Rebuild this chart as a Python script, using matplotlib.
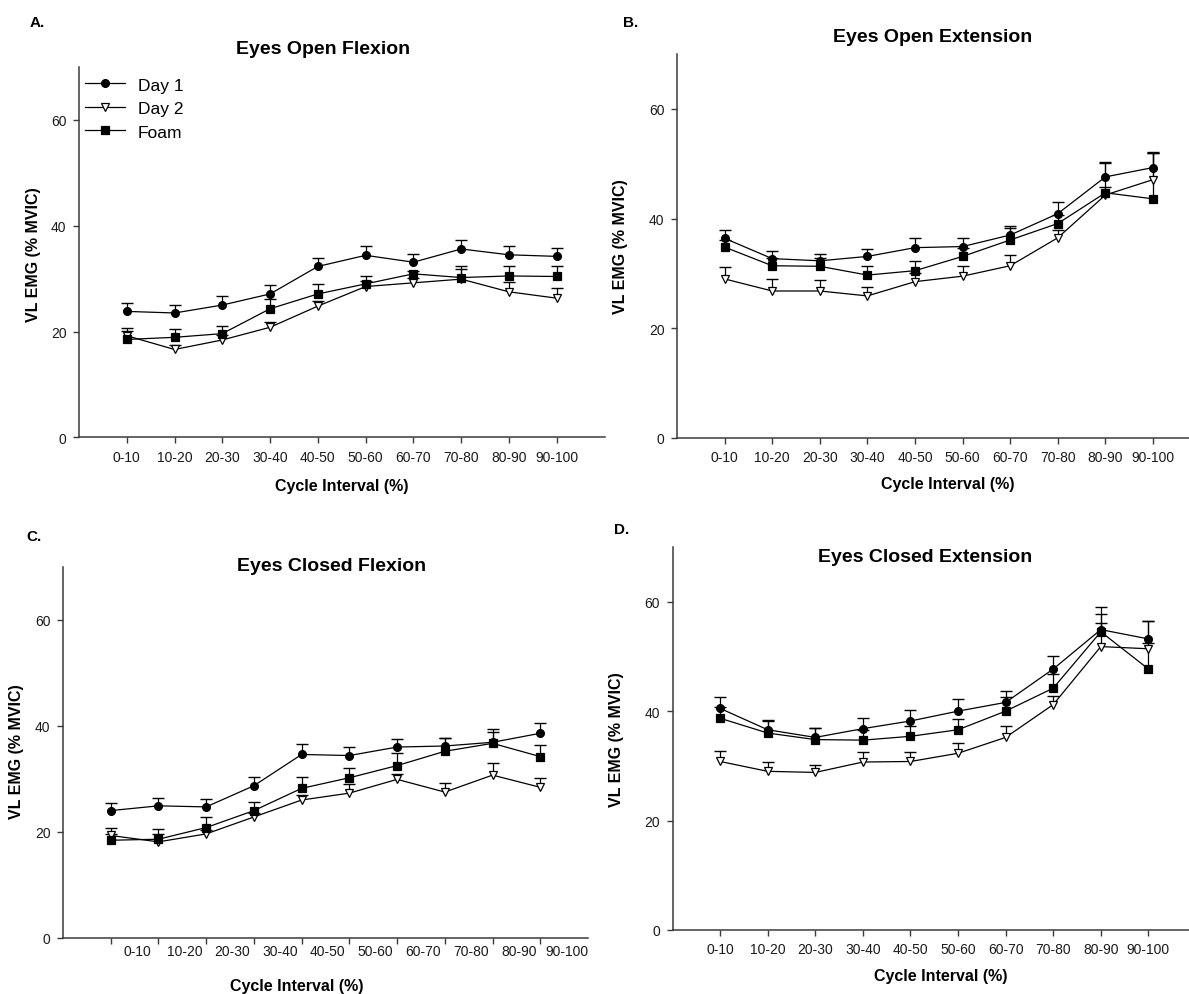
import matplotlib
matplotlib.use('Agg')
import matplotlib.pyplot as plt
import numpy as np

plt.rcParams['font.family'] = ['Liberation Sans', 'DejaVu Sans']

# ---------------- data ----------------
intervals = ['0-10', '10-20', '20-30', '30-40', '40-50',
             '50-60', '60-70', '70-80', '80-90', '90-100']
series_names = ['Day 1', 'Day 2', 'Foam']

# A. Eyes Open Flexion
day1_A = [23.8, 23.5, 25.0, 27.1, 32.3, 34.4, 33.1, 35.6, 34.5, 34.2]
day1_A_err = [1.6, 1.5, 1.7, 1.6, 1.6, 1.7, 1.5, 1.7, 1.7, 1.6]
day2_A = [19.2, 16.6, 18.4, 20.8, 24.8, 28.5, 29.2, 29.9, 27.5, 26.3]
day2_A_err = [1.5, 0.8, 0.9, 1.0, 1.0, 1.0, 1.0, 2.0, 1.9, 2.0]
foam_A = [18.5, 18.9, 19.6, 24.3, 27.1, 29.0, 30.9, 30.2, 30.5, 30.4]
foam_A_err = [1.6, 1.6, 1.5, 1.8, 1.9, 1.5, 0.6, 2.2, 1.9, 2.0]

# B. Eyes Open Extension
day1_B = [36.4, 32.7, 32.3, 33.1, 34.7, 34.9, 37.0, 40.9, 47.6, 49.3]
day1_B_err = [1.6, 1.4, 1.3, 1.4, 1.7, 1.5, 1.7, 2.1, 2.6, 2.7]
day2_B = [29.0, 26.8, 26.8, 25.9, 28.5, 29.5, 31.4, 36.5, 44.3, 47.1]
day2_B_err = [2.1, 2.2, 2.0, 1.6, 1.5, 1.9, 2.0, 1.5, 1.5, 5.0]
foam_B = [34.8, 31.4, 31.3, 29.7, 30.5, 33.1, 36.1, 39.1, 44.7, 43.6]
foam_B_err = [1.3, 1.5, 1.5, 1.6, 1.7, 1.5, 2.2, 1.5, 5.6, 8.4]

# C. Eyes Closed Flexion
day1_C = [24.0, 24.9, 24.7, 28.7, 34.6, 34.4, 36.0, 36.2, 36.9, 38.6]
day1_C_err = [1.5, 1.5, 1.4, 1.6, 1.9, 1.6, 1.6, 1.6, 2.5, 1.9]
day2_C = [19.3, 18.1, 19.6, 22.8, 26.0, 27.3, 29.9, 27.5, 30.7, 28.4]
day2_C_err = [1.5, 1.5, 0.8, 0.8, 1.0, 1.7, 1.0, 1.7, 2.2, 1.8]
foam_C = [18.4, 18.6, 20.8, 24.0, 28.2, 30.2, 32.5, 35.2, 36.7, 34.2]
foam_C_err = [1.2, 1.9, 2.0, 1.7, 2.2, 1.9, 2.3, 2.6, 2.1, 2.1]

# D. Eyes Closed Extension
day1_D = [40.5, 36.6, 35.2, 36.8, 38.2, 40.0, 41.6, 47.7, 54.9, 53.2]
day1_D_err = [2.0, 1.7, 1.7, 2.0, 2.0, 2.3, 2.0, 2.4, 4.2, 3.2]
day2_D = [30.8, 29.0, 28.8, 30.7, 30.8, 32.3, 35.2, 41.2, 51.8, 51.4]
day2_D_err = [1.9, 1.7, 1.4, 1.9, 1.7, 1.8, 2.1, 1.5, 4.3, 1.1]
foam_D = [38.7, 36.0, 34.8, 34.7, 35.4, 36.6, 40.0, 44.2, 54.5, 47.7]
foam_D_err = [2.0, 2.2, 2.1, 1.9, 1.9, 2.0, 2.5, 2.6, 3.3, 8.7]

titles = ['Eyes Open Flexion', 'Eyes Open Extension',
          'Eyes Closed Flexion', 'Eyes Closed Extension']
panel_letters = ['A.', 'B.', 'C.', 'D.']
y_label = 'VL EMG (% MVIC)'
x_label = 'Cycle Interval (%)'
y_ticks = [0, 20, 40, 60]

# ---------------- figure ----------------
W, H = 1189, 995
fig = plt.figure(figsize=(W / 100, H / 100), dpi=100)


def px_axes(l, r, t, b):
    return fig.add_axes([l / W, 1 - b / H, (r - l) / W, (b - t) / H])


def fig_text(x, y, s, **kw):
    fig.text(x / W, 1 - y / H, s, **kw)


AXC = '#3a3a3a'


def draw(ax, data, shift_labels=False, xpad=5):
    x = np.arange(1, len(intervals) + 1)
    styles = [('o', 'black'), ('v', 'white'), ('s', 'black')]
    for (y, e), (m, fc), name in zip(data, styles, series_names):
        y = np.asarray(y)
        e = np.asarray(e)
        ax.vlines(x, y, y + e, colors='black', lw=0.9, zorder=2)
        ax.plot(x, y + e, ls='none', marker='_', ms=8.3, mew=1.0,
                color='black', zorder=2)
        ax.plot(x, y, '-', color='black', lw=0.9, marker=m, ms=5.6,
                mfc=fc, mec='black', mew=0.9, zorder=3, label=name)
    ax.set_xlim(0, 11)
    ax.set_ylim(0, 70)
    ax.set_yticks(y_ticks)
    ax.set_yticklabels([str(v) for v in y_ticks])
    ax.set_xticks(x)
    if shift_labels:
        ax.set_xticklabels([])
        ax.set_xticks(x + 0.55, minor=True)
        ax.set_xticklabels(intervals, minor=True)
        ax.tick_params(axis='x', which='minor', length=0, pad=xpad + 5.6 / 1.389,
                       labelsize=10, labelcolor='#1a1a1a')
    else:
        ax.set_xticklabels(intervals)
    for s in ['top', 'right']:
        ax.spines[s].set_visible(False)
    for s in ['left', 'bottom']:
        ax.spines[s].set_color(AXC)
        ax.spines[s].set_linewidth(1.1)
    ax.tick_params(axis='both', which='major', direction='out', length=4,
                   width=1.0, color=AXC, labelsize=10, labelcolor='#1a1a1a')
    ax.tick_params(axis='x', which='major', pad=xpad)
    ax.tick_params(axis='y', pad=5)


axA = px_axes(79, 604.5, 68, 438.3)
axB = px_axes(677, 1200.6, 55, 439)
axC = px_axes(63, 588, 568, 938.7)
axD = px_axes(672.5, 1196, 548, 931)

draw(axA, [(day1_A, day1_A_err), (day2_A, day2_A_err), (foam_A, foam_A_err)], xpad=5)
draw(axB, [(day1_B, day1_B_err), (day2_B, day2_B_err), (foam_B, foam_B_err)], xpad=5)
draw(axC, [(day1_C, day1_C_err), (day2_C, day2_C_err), (foam_C, foam_C_err)],
     shift_labels=True, xpad=0.5)
draw(axD, [(day1_D, day1_D_err), (day2_D, day2_D_err), (foam_D, foam_D_err)], xpad=5)

leg = axA.legend(loc='upper left', bbox_to_anchor=(-0.009, 1.0), frameon=False,
                 fontsize=12.5, handlelength=2.35, handletextpad=0.7,
                 labelspacing=0.48, numpoints=1, borderaxespad=0.2)

# titles
for (tx, ty), t in zip([(323.4, 49.3), (933, 37.3), (332, 566.7), (925, 557.3)], titles):
    fig_text(tx, ty, t, ha='center', va='center', fontsize=14, fontweight='bold')

# panel letters
for (tx, ty), t in zip([(37, 23), (631, 23), (34, 536.7), (621.4, 530)], panel_letters):
    fig_text(tx, ty, t, ha='center', va='center', fontsize=11, fontweight='bold')

# y labels
for (tx, ty) in [(34, 255), (621, 246.7), (17, 752), (617, 740)]:
    fig_text(tx, ty, y_label, ha='center', va='center', rotation=90,
             fontsize=11.5, fontweight='bold')

# x labels
for (tx, ty) in [(341.8, 487), (948, 485), (296.6, 986.7), (941, 976.7)]:
    fig_text(tx, ty, x_label, ha='center', va='center',
             fontsize=11.5, fontweight='bold')

fig.savefig('out.png', dpi=100)
